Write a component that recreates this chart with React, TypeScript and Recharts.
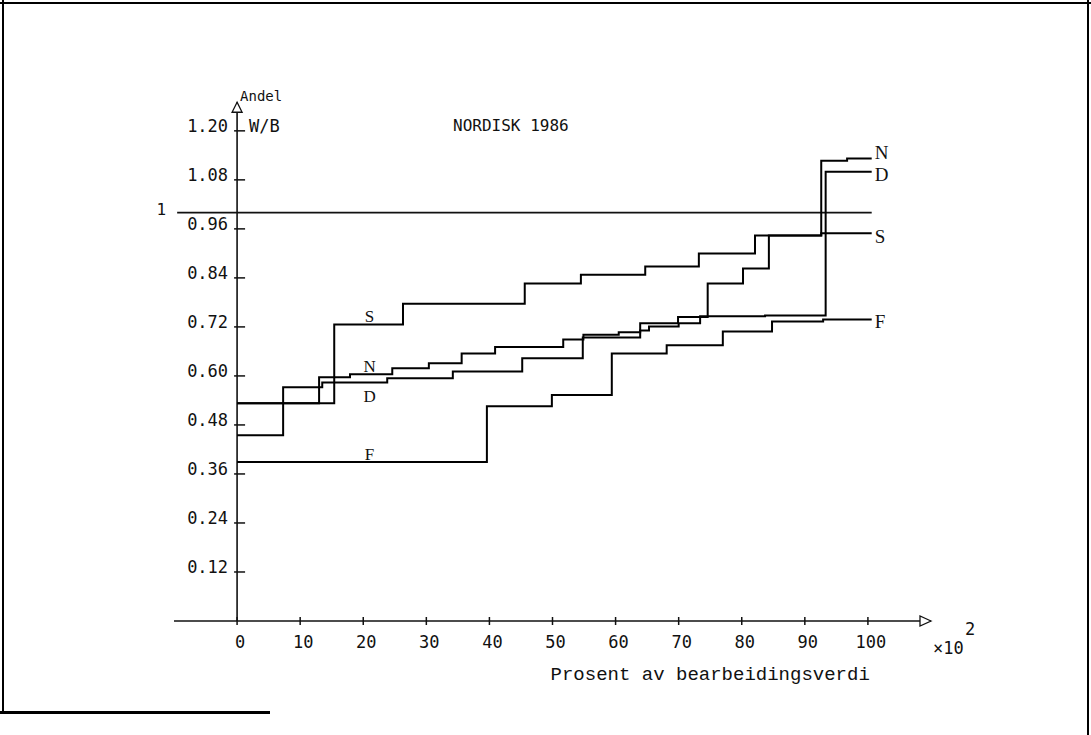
import { LineChart, Line, XAxis, YAxis, ReferenceLine, ReferenceDot } from 'recharts';

// x: prosent av bearbeidingsverdi (x10^2), y: andel W/B
const xTicks = [0, 10, 20, 30, 40, 50, 60, 70, 80, 90, 100];
const yTicks = [0.12, 0.24, 0.36, 0.48, 0.6, 0.72, 0.84, 0.96, 1.08, 1.2];

const sX = [0, 15.4, 26.3, 45.6, 54.5, 64.7, 73.2, 82.1, 92.6, 100.6];
const sY = [0.533, 0.726, 0.777, 0.826, 0.848, 0.868, 0.9, 0.944, 0.949, 0.949];

const nX = [0, 13, 17.9, 24.6, 30.4, 35.6, 40.9, 51.7, 54.9, 60.5, 63.9, 69.9, 74.6, 80.2, 84.3, 92.6, 96.7, 100.6];
const nY = [0.533, 0.597, 0.604, 0.619, 0.631, 0.655, 0.671, 0.689, 0.701, 0.707, 0.729, 0.744, 0.826, 0.863, 0.944, 1.127, 1.132, 1.132];

const dX = [0, 7.3, 13.5, 23.8, 34.2, 45.2, 54.8, 63.9, 65.3, 70, 73.4, 83.7, 93.3, 100.6];
const dY = [0.455, 0.572, 0.584, 0.594, 0.611, 0.643, 0.694, 0.711, 0.721, 0.729, 0.746, 0.748, 1.1, 1.1];

const fX = [0, 39.6, 49.9, 59.4, 68.1, 77, 84.8, 92.9, 100.6];
const fY = [0.389, 0.526, 0.553, 0.655, 0.675, 0.709, 0.733, 0.738, 0.738];

const oneLine = { y: 1, from: -9.5, to: 100.6 };

const pts = (xs: number[], ys: number[]) => xs.map((x, i) => ({ x, y: ys[i] }));
const stepAt = (xs: number[], ys: number[], at: number) => {
  let v = ys[0];
  xs.forEach((x, i) => { if (x <= at) v = ys[i]; });
  return v;
};

const series = [
  { name: 'N', xs: nX, ys: nY, endDy: -6, midDy: -8 },
  { name: 'D', xs: dX, ys: dY, endDy: 3, midDy: 14 },
  { name: 'S', xs: sX, ys: sY, endDy: 3, midDy: -8 },
  { name: 'F', xs: fX, ys: fY, endDy: 2, midDy: -8 },
];

const plotFont = '"DejaVu Sans Mono", monospace';
const serifFont = '"Liberation Serif", "DejaVu Serif", serif';
const typeFont = '"Liberation Mono", monospace';
const ink = '#111';

const XTick = (props: any) => {
  const { x, y, payload } = props;
  return (
    <g>
      <line x1={x} x2={x} y1={y - 4} y2={y + 4} stroke={ink} strokeWidth={1.5} />
      <text x={x + 3} y={y + 27} textAnchor="middle" fontFamily={plotFont} fontSize={17} fill={ink}>
        {payload.value}
      </text>
    </g>
  );
};

const line = (style: any) => <div style={{ position: 'absolute', background: '#000', ...style }} />;

export default function App() {
  return (
    <div style={{ position: 'absolute', left: 0, top: 0, width: 1091, height: 735, background: '#fff', overflow: 'hidden' }}>
      {line({ left: 0, top: 2, width: 1091, height: 2 })}
      {line({ left: 2, top: 0, width: 2, height: 713 })}
      {line({ left: 1087, top: 0, width: 2, height: 735 })}
      {line({ left: 0, top: 711, width: 270, height: 3 })}
      <LineChart width={1091} height={735} margin={{ top: 90, right: 160, bottom: 84, left: 174 }}>
        <XAxis
          dataKey="x"
          type="number"
          domain={[-10, 110]}
          ticks={xTicks}
          interval={0}
          allowDataOverflow
          tickLine={false}
          tickSize={0}
          tickMargin={0}
          height={30}
          axisLine={{ stroke: ink, strokeWidth: 1.6 }}
          tick={(p: any) => <XTick {...p} />}
        />
        <YAxis hide type="number" domain={[0, 1.3]} allowDataOverflow />

        <ReferenceLine segment={[{ x: 0, y: 0 }, { x: 0, y: 1.27 }]} stroke={ink} strokeWidth={1.6} />
        <ReferenceLine
          segment={[{ x: oneLine.from, y: oneLine.y }, { x: oneLine.to, y: oneLine.y }]}
          stroke={ink}
          strokeWidth={1.7}
        />

        {series.map((s) => (
          <Line
            key={s.name}
            data={pts(s.xs, s.ys)}
            dataKey="y"
            type="stepAfter"
            stroke="#000"
            strokeWidth={2}
            dot={false}
            activeDot={false}
            isAnimationActive={false}
          />
        ))}

        {yTicks.map((v) => (
          <ReferenceDot
            key={v}
            x={0}
            y={v}
            r={0}
            ifOverflow="visible"
            shape={(p: any) => (
              <g>
                <line x1={p.cx - 3} x2={p.cx + 8} y1={p.cy} y2={p.cy} stroke={ink} strokeWidth={1.5} />
                <text x={p.cx - 9} y={p.cy + 1} textAnchor="end" fontFamily={plotFont} fontSize={17} fill={ink}>
                  {v.toFixed(2)}
                </text>
              </g>
            )}
          />
        ))}

        {series.map((s) => (
          <ReferenceDot
            key={'end' + s.name}
            x={s.xs[s.xs.length - 1]}
            y={s.ys[s.ys.length - 1]}
            r={0}
            ifOverflow="visible"
            shape={(p: any) => (
              <text x={p.cx + 3} y={p.cy + s.endDy} dominantBaseline="central" fontFamily={serifFont} fontSize={19} fill={ink}>
                {s.name}
              </text>
            )}
          />
        ))}
        {series.map((s) => (
          <ReferenceDot
            key={'mid' + s.name}
            x={21}
            y={stepAt(s.xs, s.ys, 21)}
            r={0}
            ifOverflow="visible"
            shape={(p: any) => (
              <text x={p.cx} y={p.cy + s.midDy} textAnchor="middle" dominantBaseline="central" fontFamily={serifFont} fontSize={17} fill={ink}>
                {s.name}
              </text>
            )}
          />
        ))}

        <ReferenceDot
          x={0}
          y={1.27}
          r={0}
          ifOverflow="visible"
          shape={(p: any) => (
            <g>
              <path d={`M${p.cx},${p.cy} L${p.cx - 5},${p.cy + 10} L${p.cx + 5},${p.cy + 10} Z`} fill="#fff" stroke={ink} strokeWidth={1.3} />
              <text x={p.cx + 3} y={p.cy - 1} fontFamily={plotFont} fontSize={14} fill={ink}>Andel</text>
            </g>
          )}
        />
        <ReferenceDot
          x={0}
          y={1.2}
          r={0}
          ifOverflow="visible"
          shape={(p: any) => (
            <text x={p.cx + 12} y={p.cy - 5} dominantBaseline="central" fontFamily={plotFont} fontSize={17} fill={ink}>W/B</text>
          )}
        />
        <ReferenceDot
          x={43.4}
          y={1.2}
          r={0}
          ifOverflow="visible"
          shape={(p: any) => (
            <text x={p.cx} y={p.cy - 5} textAnchor="middle" dominantBaseline="central" fontFamily={plotFont} fontSize={16} fill={ink}>NORDISK 1986</text>
          )}
        />
        <ReferenceDot
          x={oneLine.from}
          y={oneLine.y}
          r={0}
          ifOverflow="visible"
          shape={(p: any) => (
            <text x={p.cx - 11} y={p.cy - 3} textAnchor="end" dominantBaseline="central" fontFamily={plotFont} fontSize={16} fill={ink}>1</text>
          )}
        />
        <ReferenceDot
          x={110}
          y={0}
          r={0}
          ifOverflow="visible"
          shape={(p: any) => (
            <g>
              <path d={`M${p.cx},${p.cy} L${p.cx - 11},${p.cy - 5} L${p.cx - 11},${p.cy + 5} Z`} fill="#fff" stroke={ink} strokeWidth={1.3} />
              <text x={p.cx + 2} y={p.cy + 33} fontFamily={plotFont} fontSize={17} fill={ink}>×10</text>
              <text x={p.cx + 34} y={p.cy + 14} fontFamily={plotFont} fontSize={17} fill={ink}>2</text>
            </g>
          )}
        />
        <ReferenceDot
          x={75}
          y={0}
          r={0}
          ifOverflow="visible"
          shape={(p: any) => (
            <text x={p.cx} y={p.cy + 59} textAnchor="middle" fontFamily={typeFont} fontSize={19} fill={ink}>
              Prosent av bearbeidingsverdi
            </text>
          )}
        />
      </LineChart>
    </div>
  );
}
